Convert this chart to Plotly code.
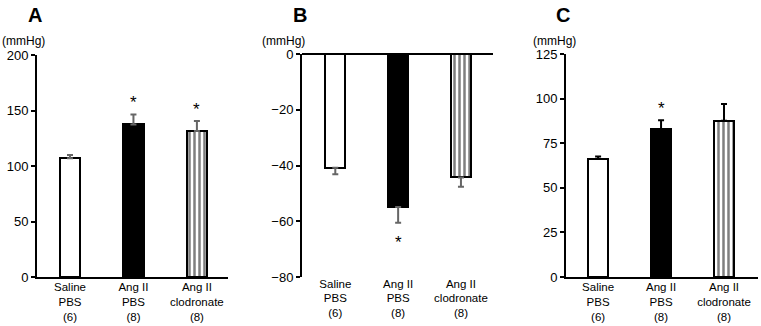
import plotly.graph_objects as go

W, H = 761, 326
categories = ["Saline<br>PBS<br>(6)", "Ang II<br>PBS<br>(8)", "Ang II<br>clodronate<br>(8)"]

a_values = [107, 137.5, 131.5]
a_errors = [3, 9, 9]
b_values = [-40.8, -54.9, -44.3]
b_errors = [2.3, 5.6, 3.3]
c_values = [66.1, 83.0, 87.6]
c_errors = [1.5, 4.8, 9.4]

a_ticks = [0, 50, 100, 150, 200]
b_ticks = [0, -20, -40, -60, -80]
c_ticks = [0, 25, 50, 75, 100, 125]

a_sig = [False, True, True]
b_sig = [False, True, False]
c_sig = [False, True, False]

fills = ["white", "black", "white"]
patterns = ["", "", "|"]

def px_x(a, b):
    return [a / W, b / W]

def px_y(top, bottom):
    return [(H - bottom) / H, (H - top) / H]

panels = [
    dict(vals=a_values, errs=a_errors, ticks=a_ticks, rng=[0, 200], sig=a_sig,
         xd=px_x(37, 228), yd=px_y(55, 277), xr=[-0.52, 2.49], ecol="#666666",
         letter="A", lx=35, ux=24, neg=False),
    dict(vals=b_values, errs=b_errors, ticks=b_ticks, rng=[-80, 0], sig=b_sig,
         xd=px_x(302, 493), yd=px_y(54, 277), xr=[-0.53, 2.51], ecol="#666666",
         letter="B", lx=300, ux=283, neg=True),
    dict(vals=c_values, errs=c_errors, ticks=c_ticks, rng=[0, 125], sig=c_sig,
         xd=px_x(566, 758), yd=px_y(54, 277), xr=[-0.51, 2.54], ecol="black",
         letter="C", lx=563, ux=554, neg=False),
]

fig = go.Figure()
annotations = []
for i, p in enumerate(panels, start=1):
    xa = "x" if i == 1 else f"x{i}"
    ya = "y" if i == 1 else f"y{i}"
    for j in range(3):
        err = dict(type="data", symmetric=False, color=p["ecol"], thickness=2, width=3)
        if p["neg"]:
            err.update(array=[0], arrayminus=[p["errs"][j]])
        else:
            err.update(array=[p["errs"][j]], arrayminus=[0])
        fig.add_trace(go.Bar(
            x=[j], y=[p["vals"][j]], width=0.32, xaxis=xa, yaxis=ya,
            marker=dict(color=fills[j], line=dict(color="black", width=2),
                        pattern=dict(shape=patterns[j], fgcolor="black", bgcolor="white",
                                     size=5, solidity=0.5)),
            error_y=err, showlegend=False, hoverinfo="skip"))
        if p["sig"][j]:
            if p["neg"]:
                yv = p["vals"][j] - p["errs"][j]
                annotations.append(dict(x=j, y=yv, xref=xa, yref=ya, text="*", showarrow=False,
                                        yanchor="top", yshift=-8, font=dict(size=17, color="black")))
            else:
                yv = p["vals"][j] + p["errs"][j]
                annotations.append(dict(x=j, y=yv, xref=xa, yref=ya, text="*", showarrow=False,
                                        yanchor="bottom", yshift=0, font=dict(size=17, color="black")))
    annotations.append(dict(x=p["lx"] / W, y=1 - 15 / H, xref="paper", yref="paper",
                            text=f"<b>{p['letter']}</b>", showarrow=False,
                            xanchor="center", yanchor="middle",
                            font=dict(size=20, color="black")))
    annotations.append(dict(x=p["ux"] / W, y=1 - 41 / H, xref="paper", yref="paper",
                            text="(mmHg)", showarrow=False,
                            xanchor="center", yanchor="middle",
                            font=dict(size=12, color="black")))
    xkey = "xaxis" if i == 1 else f"xaxis{i}"
    ykey = "yaxis" if i == 1 else f"yaxis{i}"
    fig.layout[xkey] = dict(domain=p["xd"], range=p["xr"], anchor=ya, automargin=False,
                            tickvals=[0, 1, 2], ticktext=categories, ticklabelstandoff=-2,
                            showline=not p["neg"], linecolor="black", linewidth=2,
                            ticks="", showgrid=False, zeroline=False,
                            tickfont=dict(size=11.5, color="black"), fixedrange=True)
    fig.layout[ykey] = dict(domain=p["yd"], range=p["rng"], anchor=xa, automargin=False,
                            tickvals=p["ticks"], showline=True, linecolor="black", linewidth=2,
                            ticks="outside", ticklen=4, tickwidth=2, tickcolor="black",
                            showgrid=False, zeroline=p["neg"], zerolinecolor="black",
                            zerolinewidth=2, tickfont=dict(size=13, color="black"),
                            fixedrange=True)

fig.update_layout(width=W, height=H, margin=dict(l=0, r=0, t=0, b=0),
                  paper_bgcolor="white", plot_bgcolor="white",
                  font=dict(family="Liberation Sans, Arial, sans-serif", color="black"),
                  annotations=annotations, bargap=0)
fig.write_html("out.html")
